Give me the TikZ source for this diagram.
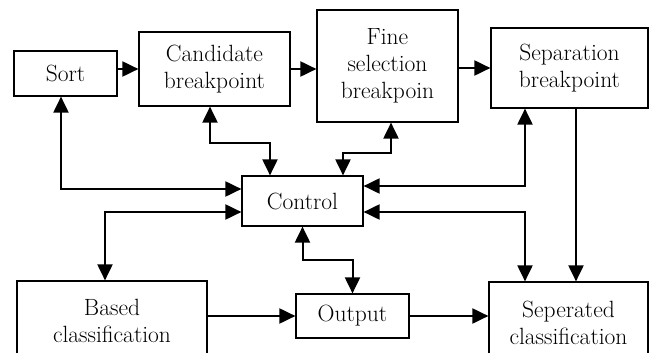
\documentclass[tikz,border=0pt]{standalone}
\usepackage{fontspec}
\usetikzlibrary{arrows.meta}

\begin{document}
\begin{tikzpicture}[x=1pt,y=-1pt,>={Triangle[length=16pt,width=15pt]},
	box/.style={draw,line width=1.2pt,inner sep=0pt,align=center,font=\fontsize{23.5}{27}\selectfont},
	link/.style={line width=2pt}]

\clip (0,0) rectangle (649,353);

\node[box,minimum width=103,minimum height=45]   (sort)  at (65.5,73.5)   {Sort};
\node[box,minimum width=151,minimum height=74]   (cand)  at (214.5,69)    {Candidate\\breakpoint};
\node[box,minimum width=141,minimum height=112]  (fine)  at (387.5,66)    {Fine\\selection\\breakpoin};
\node[box,minimum width=157,minimum height=80]   (sep)   at (569.5,68)    {Separation\\breakpoint};
\node[box,minimum width=121,minimum height=50]   (ctrl)  at (302.5,201)   {Control};
\node[box,minimum width=190,minimum height=80]   (based) at (112,321)     {Based\\classification};
\node[box,minimum width=113,minimum height=44]   (out)   at (352.5,316)   {Output};
\node[box,minimum width=159,minimum height=82]   (sepcl) at (568.5,323)   {Seperated\\classification};

	\draw[link,->] (sort.east |- cand)   --  (cand.west);
	\draw[link,->] (cand.east)   --  (fine.west |- cand.east);
	\draw[link,->] (fine.east |- sep)   --  (sep.west);
	\draw[link,<->] ([xshift=-4.5pt]sort.south)   |-  ([yshift=12pt]ctrl.west);
	\draw[link,<->] ([xshift=-4.5pt]cand.south) -- ++(0,36)   -|  ([xshift=-32.5pt]ctrl.north);
	\draw[link,<->] ([xshift=3.5pt]fine.south) -- ++(0,30)   -|  ([xshift=40.5pt]ctrl.north);
	\draw[link,<->] ([xshift=-44.5pt]sep.south)   |-  ([yshift=15pt]ctrl.east);
	\draw[link,->] ([xshift=6.5pt]sep.south)   --  ([xshift=6.5pt]sep.south |- sepcl.north);
	\draw[link,<->] ([yshift=-11pt]ctrl.east)   -|  ([xshift=-43.5pt]sepcl.north);
	\draw[link,<->] ([yshift=-11pt]ctrl.west)   -|  ([xshift=-7pt]based.north);
	\draw[link,<->] (ctrl.south) -- ++(0,33)   -|  (out.north);
	\draw[link,->] (based.east |- out)   --  (out.west);
	\draw[link,->] (out.east)   --  (sepcl.west |- out.east);

\end{tikzpicture}
\end{document}
